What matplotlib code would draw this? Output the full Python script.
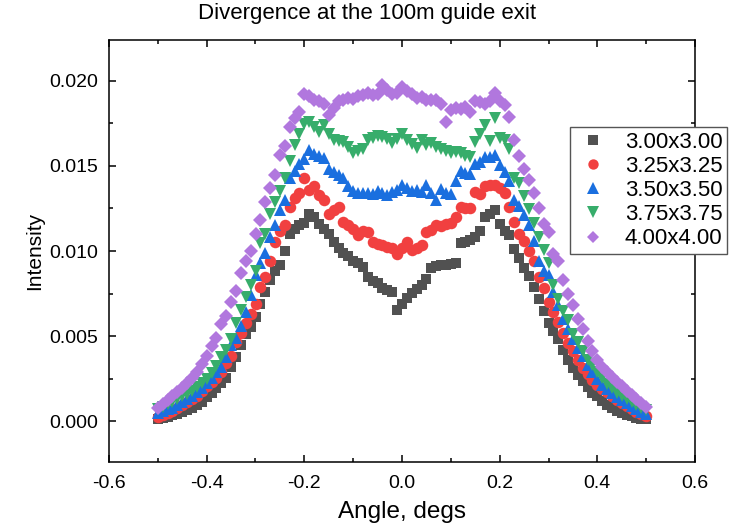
import numpy as np
import matplotlib
matplotlib.use("Agg")
import matplotlib.pyplot as plt
from matplotlib.ticker import MultipleLocator

angle = [round(-0.5 + 0.01 * i, 2) for i in range(101)]

s300 = [0.00015, 0.00020, 0.00025, 0.00035, 0.00045, 0.00055, 0.00065, 0.00080, 0.00095, 0.00115,
        0.00140, 0.00165, 0.00195, 0.00225, 0.00255, 0.00320, 0.00380, 0.00450, 0.00510, 0.00555,
        0.00610, 0.00690, 0.00760, 0.00830, 0.00880, 0.00920, 0.01000, 0.01100, 0.01130, 0.01150,
        0.01165, 0.01215, 0.01200, 0.01160, 0.01130, 0.01100, 0.01050, 0.01020, 0.00990, 0.00970,
        0.00940, 0.00930, 0.00905, 0.00850, 0.00825, 0.00810, 0.00785, 0.00770, 0.00760, 0.00655,
        0.00690, 0.00725, 0.00755, 0.00775, 0.00800, 0.00835, 0.00900, 0.00910, 0.00915, 0.00920,
        0.00925, 0.00930, 0.01045, 0.01055, 0.01065, 0.01080, 0.01115, 0.01200, 0.01215, 0.01240,
        0.01160, 0.01120, 0.01095, 0.01010, 0.00960, 0.00900, 0.00855, 0.00790, 0.00715, 0.00650,
        0.00575, 0.00530, 0.00480, 0.00420, 0.00360, 0.00310, 0.00270, 0.00235, 0.00200, 0.00165,
        0.00145, 0.00120, 0.00095, 0.00078, 0.00062, 0.00048, 0.00038, 0.00028, 0.00020, 0.00014,
        0.00010]

s325 = [0.00025, 0.00035, 0.00048, 0.00060, 0.00075, 0.00095, 0.00110, 0.00130, 0.00150, 0.00175,
        0.00205, 0.00230, 0.00255, 0.00290, 0.00340, 0.00385, 0.00465, 0.00520, 0.00575, 0.00630,
        0.00690, 0.00790, 0.00850, 0.00940, 0.01050, 0.01120, 0.01150, 0.01260, 0.01310, 0.01340,
        0.01430, 0.01360, 0.01380, 0.01330, 0.01300, 0.01220, 0.01240, 0.01260, 0.01170, 0.01150,
        0.01130, 0.01095, 0.01120, 0.01110, 0.01055, 0.01040, 0.01035, 0.01025, 0.01015, 0.00985,
        0.01015, 0.01055, 0.01005, 0.01020, 0.01035, 0.01110, 0.01125, 0.01150, 0.01145, 0.01160,
        0.01165, 0.01200, 0.01260, 0.01250, 0.01255, 0.01345, 0.01335, 0.01380, 0.01390, 0.01385,
        0.01370, 0.01340, 0.01260, 0.01170, 0.01100, 0.01060, 0.01000, 0.00940, 0.00850, 0.00780,
        0.00700, 0.00640, 0.00580, 0.00520, 0.00460, 0.00410, 0.00360, 0.00315, 0.00275, 0.00240,
        0.00210, 0.00190, 0.00170, 0.00145, 0.00125, 0.00105, 0.00090, 0.00070, 0.00055, 0.00042,
        0.00030]

s350 = [0.00050, 0.00060, 0.00070, 0.00080, 0.00095, 0.00115, 0.00130, 0.00150, 0.00170, 0.00195,
        0.00225, 0.00255, 0.00290, 0.00320, 0.00380, 0.00450, 0.00490, 0.00560, 0.00640, 0.00740,
        0.00860, 0.00930, 0.00990, 0.01080, 0.01150, 0.01240, 0.01300, 0.01430, 0.01470, 0.01510,
        0.01540, 0.01595, 0.01570, 0.01560, 0.01545, 0.01480, 0.01465, 0.01445, 0.01430, 0.01380,
        0.01350, 0.01340, 0.01338, 0.01340, 0.01335, 0.01350, 0.01340, 0.01330, 0.01345, 0.01360,
        0.01385, 0.01370, 0.01355, 0.01360, 0.01345, 0.01385, 0.01340, 0.01300, 0.01365, 0.01340,
        0.01335, 0.01410, 0.01470, 0.01460, 0.01455, 0.01510, 0.01525, 0.01550, 0.01555, 0.01565,
        0.01505, 0.01465, 0.01410, 0.01300, 0.01265, 0.01210, 0.01150, 0.01060, 0.00940, 0.00880,
        0.00860, 0.00760, 0.00680, 0.00600, 0.00540, 0.00480, 0.00430, 0.00385, 0.00330, 0.00290,
        0.00245, 0.00215, 0.00190, 0.00165, 0.00140, 0.00125, 0.00105, 0.00090, 0.00070, 0.00055,
        0.00045]

s375 = [0.00070, 0.00085, 0.00100, 0.00115, 0.00130, 0.00145, 0.00160, 0.00178, 0.00200, 0.00225,
        0.00250, 0.00285, 0.00325, 0.00375, 0.00420, 0.00480, 0.00575, 0.00655, 0.00730, 0.00800,
        0.00880, 0.01045, 0.01100, 0.01220, 0.01290, 0.01350, 0.01430, 0.01530, 0.01625, 0.01685,
        0.01745, 0.01760, 0.01730, 0.01700, 0.01740, 0.01690, 0.01650, 0.01645, 0.01640, 0.01610,
        0.01575, 0.01590, 0.01600, 0.01650, 0.01665, 0.01675, 0.01670, 0.01660, 0.01635, 0.01660,
        0.01685, 0.01650, 0.01630, 0.01605, 0.01650, 0.01625, 0.01635, 0.01610, 0.01600, 0.01590,
        0.01575, 0.01580, 0.01575, 0.01560, 0.01555, 0.01640, 0.01690, 0.01740, 0.01645, 0.01780,
        0.01665, 0.01655, 0.01600, 0.01430, 0.01400, 0.01325, 0.01245, 0.01165, 0.01085, 0.01005,
        0.00930, 0.00800, 0.00720, 0.00650, 0.00595, 0.00515, 0.00465, 0.00410, 0.00360, 0.00330,
        0.00290, 0.00255, 0.00220, 0.00195, 0.00165, 0.00150, 0.00130, 0.00110, 0.00095, 0.00080,
        0.00065]

s400 = [0.00080, 0.00100, 0.00125, 0.00145, 0.00170, 0.00195, 0.00225, 0.00255, 0.00290, 0.00335,
        0.00385, 0.00440, 0.00490, 0.00570, 0.00620, 0.00700, 0.00765, 0.00870, 0.00940, 0.01000,
        0.01100, 0.01180, 0.01290, 0.01370, 0.01445, 0.01565, 0.01620, 0.01730, 0.01780, 0.01815,
        0.01925, 0.01910, 0.01890, 0.01880, 0.01865, 0.01800, 0.01840, 0.01880, 0.01885, 0.01900,
        0.01895, 0.01910, 0.01915, 0.01930, 0.01915, 0.01925, 0.01975, 0.01945, 0.01925, 0.01930,
        0.01965, 0.01940, 0.01925, 0.01900, 0.01905, 0.01890, 0.01888, 0.01885, 0.01865, 0.01760,
        0.01830, 0.01840, 0.01835, 0.01845, 0.01815, 0.01880, 0.01875, 0.01865, 0.01880, 0.01930,
        0.01880, 0.01860, 0.01790, 0.01650, 0.01560, 0.01480, 0.01420, 0.01340, 0.01250, 0.01160,
        0.01110, 0.00985, 0.00940, 0.00830, 0.00750, 0.00680, 0.00600, 0.00540, 0.00470, 0.00410,
        0.00360, 0.00320, 0.00290, 0.00260, 0.00230, 0.00205, 0.00180, 0.00155, 0.00130, 0.00105,
        0.00085]

labels = ["3.00x3.00", "3.25x3.25", "3.50x3.50", "3.75x3.75", "4.00x4.00"]
series = [s300, s325, s350, s375, s400]
colors = ["#515151", "#F14040", "#1A6FDF", "#37AD6B", "#B177DE"]
markers = ["s", "o", "^", "v", "D"]
msizes = [7.3, 8.3, 9.0, 9.0, 7.0]

plt.rcParams['font.family'] = ['Liberation Sans', 'DejaVu Sans']

fig = plt.figure(figsize=(7.34, 5.26), dpi=100)
ax = fig.add_axes([109/734, 1 - 462/526, (695 - 109)/734, (462 - 40)/526])

for y, lab, c, m, ms in zip(series, labels, colors, markers, msizes):
    ax.plot(angle, y, linestyle='none', marker=m, markersize=ms, color=c,
            markeredgewidth=0, label=lab)

ax.set_xlim(-0.6, 0.6)
ax.set_ylim(-0.0024, 0.0224)
ax.xaxis.set_minor_locator(MultipleLocator(0.1))
ax.yaxis.set_minor_locator(MultipleLocator(0.0025))
ax.set_xticks([-0.6, -0.4, -0.2, 0.0, 0.2, 0.4, 0.6])
ax.set_xticklabels(["-0.6", "-0.4", "-0.2", "0.0", "0.2", "0.4", "0.6"])
ax.set_yticks([0.0, 0.005, 0.010, 0.015, 0.020])
ax.set_yticklabels(["0.000", "0.005", "0.010", "0.015", "0.020"])

ax.tick_params(which='both', direction='in', top=True, right=True, width=1.1, labelsize=14)
ax.tick_params(which='major', length=5)
ax.tick_params(which='minor', length=3)
ax.tick_params(axis='x', which='major', pad=9.0)
ax.tick_params(axis='y', which='major', pad=7.8)
for sp in ax.spines.values():
    sp.set_linewidth(1.1)

ax.set_xlabel("Angle, degs", fontsize=17.5, labelpad=7)
ax.set_ylabel("Intensity", fontsize=15, labelpad=4)
fig.text(367/734, 1 - 13/526, "Divergence at the 100m guide exit", fontsize=16,
         ha='center', va='center')

leg = ax.legend(loc='upper left', bbox_to_anchor=(570/734, 1 - 127/526),
                bbox_transform=fig.transFigure, borderaxespad=0, fontsize=16,
                frameon=True, fancybox=False, edgecolor='#555555', framealpha=1,
                handlelength=1.6, handletextpad=0.65, borderpad=0.22, labelspacing=0.14,
                markerscale=0.9)
leg.get_frame().set_linewidth(1.0)

fig.savefig("out.png", dpi=100)
